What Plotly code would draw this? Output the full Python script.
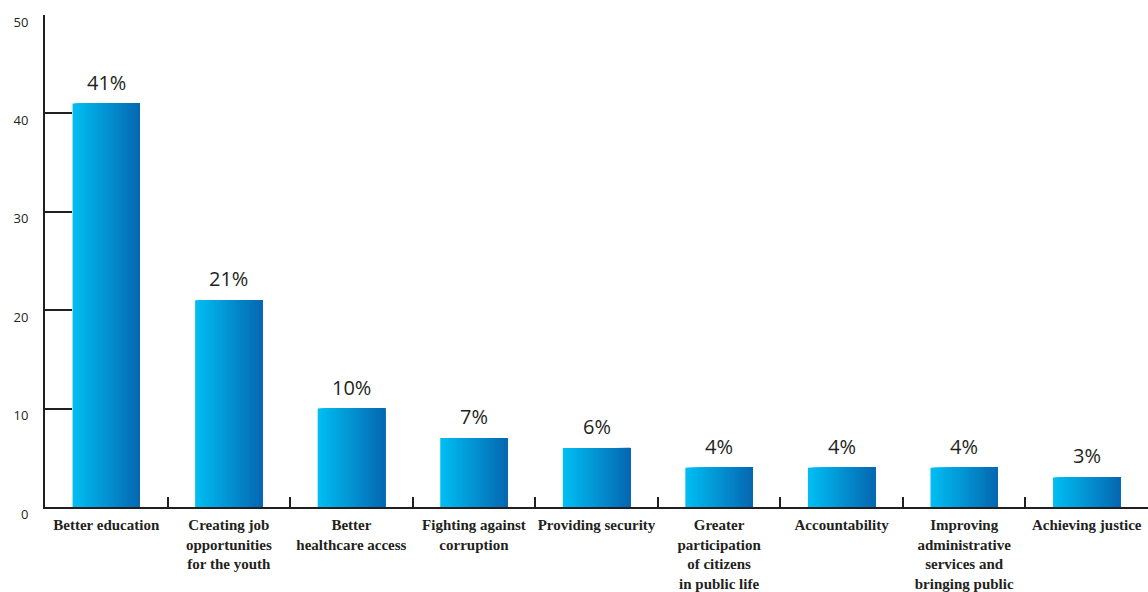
import plotly.graph_objects as go

# --- data ---
categories = [
    "Better education",
    "Creating job<br>opportunities<br>for the youth",
    "Better<br>healthcare access",
    "Fighting against<br>corruption",
    "Providing security",
    "Greater<br>participation<br>of citizens<br>in public life",
    "Accountability",
    "Improving<br>administrative<br>services and<br>bringing public",
    "Achieving justice",
]
values = [41, 21, 10, 7, 6, 4, 4, 4, 3]
pct_labels = ["41%", "21%", "10%", "7%", "6%", "4%", "4%", "4%", "3%"]
y_ticks = [0, 10, 20, 30, 40, 50]

# gradient ends (left light cyan -> right deep blue)
c_left = (0, 190, 242)
c_right = (5, 104, 178)

bar_w = 0.55
n_slices = 40

fig = go.Figure()

# Fake a horizontal gradient: each slice runs from its start to the bar's
# right edge, later (darker) slices drawn on top -> no seams
for i in range(n_slices):
    t = i / (n_slices - 1)
    r = round(c_left[0] + (c_right[0] - c_left[0]) * t)
    g = round(c_left[1] + (c_right[1] - c_left[1]) * t)
    b = round(c_left[2] + (c_right[2] - c_left[2]) * t)
    start = -bar_w / 2 + i * bar_w / n_slices
    fig.add_trace(go.Bar(
        x=categories,
        y=values,
        width=bar_w / 2 - start,
        offset=start,
        marker=dict(color=f"rgb({r},{g},{b})", line=dict(width=0)),
        hoverinfo="skip",
        showlegend=False,
    ))

# percent labels above bars
for cat, v, lbl in zip(categories, values, pct_labels):
    fig.add_annotation(
        x=cat, y=v, text=lbl, showarrow=False,
        yanchor="bottom", yshift=6,
        font=dict(family="Open Sans", size=20, color="#231f20"),
    )

fig.update_layout(
    barmode="overlay",
    width=1148,
    height=592,
    margin=dict(l=45, r=0, t=15, b=85, autoexpand=False),
    paper_bgcolor="white",
    plot_bgcolor="white",
    showlegend=False,
    xaxis=dict(
        type="category",
        range=[-0.5, len(categories) - 0.5],
        showline=True,
        linecolor="#231f20",
        linewidth=2,
        ticks="inside",
        tickson="boundaries",
        ticklen=10,
        tickwidth=2,
        tickcolor="#231f20",
        showgrid=False,
        tickangle=0,
        automargin=False,
        ticklabelstandoff=3,
        tickfont=dict(family="Liberation Serif", size=15, color="#231f20", weight="bold"),
    ),
    yaxis=dict(
        range=[0, 50],
        tickvals=y_ticks,
        showline=True,
        linecolor="#231f20",
        linewidth=2,
        ticks="inside",
        ticklen=27,
        tickwidth=2,
        tickcolor="#231f20",
        showgrid=False,
        zeroline=False,
        automargin=False,
        ticklabelstandoff=12,
        ticklabelshift=7,
        tickfont=dict(family="Open Sans", size=13, color="#231f20"),
    ),
)

fig.write_html(
    "out.html",
    config={"displayModeBar": False},
    post_script="document.body.style.margin='0';",
)
